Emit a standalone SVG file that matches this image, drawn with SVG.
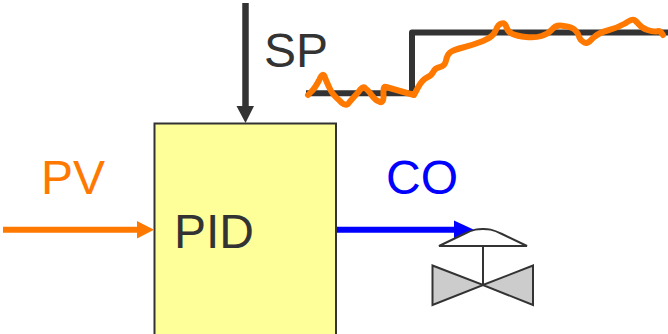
<svg xmlns="http://www.w3.org/2000/svg" width="668" height="334" viewBox="0 0 668 334">
<style>
text{font-family:"Liberation Sans",Arial,sans-serif;font-size:48px}
.ln{fill:none;stroke-linejoin:round}
</style>
<rect width="668" height="334" fill="#fff"/>
<g id="pid"><rect x="154.500" y="123.500" width="181.500" height="220" fill="#ffff99" stroke="#333" stroke-width="2"/><text x="174" y="248" fill="#333">PID</text></g>
<g id="connectors">
<path d="M245.500 3V107" stroke="#333" stroke-width="6.500" fill="none"/><path d="M236.500 106H254L245.500 123Z" fill="#333"/>
<path d="M3 229.700H138" stroke="#ff7900" stroke-width="6" fill="none"/><path d="M137 221V238.500L154 229.700Z" fill="#ff7900"/>
<path d="M337 229.700H456" stroke="#0000ff" stroke-width="6" fill="none"/><path d="M454 220.500V238.500L474 229.700Z" fill="#0000ff"/>
</g>
<g id="sp-label"><text x="264" y="67" fill="#333">SP</text></g>
<g id="pv-label"><text x="41" y="194" fill="#ff7900">PV</text></g>
<g id="co-label"><text x="386" y="194" fill="#0000ff">CO</text></g>
<g id="valve">
<path d="M439 246L464 234C474 229 478 229 483 229C488 229 492 229 502 234L527 246Z" fill="#fff" stroke="#333" stroke-width="2"/>
<path d="M483 246V285" stroke="#333" stroke-width="2"/>
<path d="M432.500 265.500L483 285L533 265.500V305L483 285L432.500 305Z" fill="#cccccc" stroke="#333" stroke-width="2"/>
</g>
<g id="trend">
<path class="ln" d="M306 93.300H412V32.500H668" stroke="#333" stroke-width="6"/>
<path class="ln" stroke="#ff7900" stroke-width="6" stroke-linecap="round" d="M308 95L311.500 91.500Q315 88 319 80.500Q323 70 325.500 79Q328 85 330.500 90Q333 95 339.500 100.500Q346 108 349.500 102Q353 98 358 92.500Q363 85 365.500 88.500Q368 90 371.500 95Q375 100 379 101.500Q384 104 383.500 95Q383 85 386 87L414 95Q418 87.500 418 87.500Q422 80 427 77.500Q432 75 433.500 71.500Q435 68 440 67Q445 66 446 60.500Q447 55 450 52.500Q453 50 463 47.500Q473 45 483 41Q493 37 495.500 31Q498 24 501.500 23.500Q505 22 506.500 27.500Q508 32 512.500 34Q517 36 526 37Q535 38 541.500 36Q548 34 552 29.500Q556 24 564 26Q572 27 575 30Q578 33 579 36.500Q580 40 583.500 42Q587 45 592.500 38.500Q598 33 607.500 30.500Q617 28 625 23.500Q633 18 635 20.500Q637 22 639.500 25Q642 28 647.500 30Q653 32 656.500 31.500Q660 30 663 35"/>
</g>
</svg>
